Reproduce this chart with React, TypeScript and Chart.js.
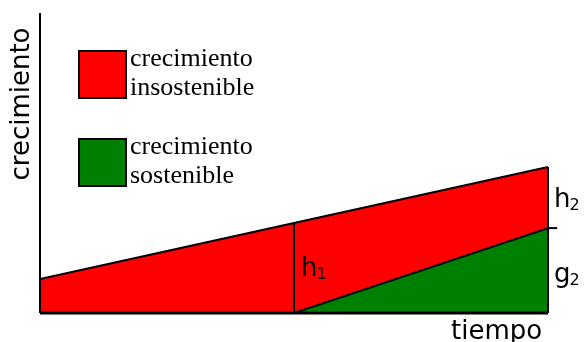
import React, { useEffect, useRef } from "react";
import { Chart, registerables } from "chart.js";

Chart.register(...registerables);

// time positions (x) and growth values (y)
const redX = [0, 5, 10];
const redY = [1.13, 3.0, 4.87];
const greenX = [5, 10];
const greenY = [0, 2.83];
const xMax = 10;
const yMax = 10;

const legendItems = [
  { color: "#ff0000", lines: ["crecimiento", "insostenible"] },
  { color: "#008000", lines: ["crecimiento", "sostenible"] },
];

const axisTitleX = "tiempo";
const axisTitleY = "crecimiento";

const pts = (xs: number[], ys: number[]) => xs.map((x, i) => ({ x, y: ys[i] }));

const labelsPlugin = {
  id: "labelsPlugin",
  afterDraw(chart: any) {
    const ctx = chart.ctx as CanvasRenderingContext2D;
    const xs = chart.scales.x;
    ctx.save();
    ctx.fillStyle = "#000";
    ctx.textBaseline = "alphabetic";
    ctx.textAlign = "left";
    const sans = "DejaVu Sans";
    const serif = "Liberation Serif";
    // legend
    legendItems.forEach((it, i) => {
      const top = 51 + i * 88;
      ctx.fillStyle = it.color;
      ctx.fillRect(79, top, 47, 47);
      ctx.strokeStyle = "#000";
      ctx.lineWidth = 2;
      ctx.strokeRect(79, top, 47, 47);
      ctx.fillStyle = "#000";
      ctx.font = `26px "${serif}"`;
      ctx.fillText(it.lines[0], 130, top + 15);
      ctx.fillText(it.lines[1], 130, top + 44);
    });
    // axis titles
    ctx.font = `26px "${sans}"`;
    ctx.fillText(axisTitleX, 451, 339);
    ctx.save();
    ctx.translate(29, 104);
    ctx.rotate(-Math.PI / 2);
    ctx.textAlign = "center";
    ctx.fillText(axisTitleY, 0, 0);
    ctx.restore();
    // h / g annotations
    const xr = xs.getPixelForValue(xMax);
    const xm = xs.getPixelForValue(5);
    const drawSub = (main: string, sub: string, x: number, y: number) => {
      ctx.font = `26px "${sans}"`;
      ctx.fillText(main, x, y);
      const w = ctx.measureText(main).width;
      ctx.font = `16px "${sans}"`;
      ctx.fillText(sub, x + w - 1, y + 3);
    };
    drawSub("h", "2", xr + 6, 207);
    drawSub("g", "2", xr + 6, 282);
    drawSub("h", "1", xm + 7, 276);
    ctx.restore();
  },
};

export default function App() {
  const ref = useRef<HTMLCanvasElement>(null);
  useEffect(() => {
    if (!ref.current) return;
    const line = (data: any[], width = 2, order = 1) => ({
      data,
      borderColor: "#000",
      borderWidth: width,
      pointRadius: 0,
      fill: false,
      tension: 0,
      clip: false as any,
      order,
    });
    const chart = new Chart(ref.current, {
      type: "line",
      data: {
        datasets: [
          {
            data: pts(redX, redY),
            backgroundColor: "#ff0000",
            borderColor: "#000",
            borderWidth: 2,
            pointRadius: 0,
            fill: "origin",
            tension: 0,
            order: 10,
          },
          {
            data: pts(greenX, greenY),
            backgroundColor: "#008000",
            borderColor: "#000",
            borderWidth: 2,
            pointRadius: 0,
            fill: "origin",
            tension: 0,
            order: 5,
          },
          line([{ x: 5, y: 0 }, { x: 5, y: redY[1] }]),
          line([{ x: xMax, y: 0 }, { x: xMax, y: redY[2] }]),
          line([{ x: xMax, y: greenY[1] }, { x: xMax + 0.18, y: greenY[1] }]),
          line([{ x: 0, y: 0 }, { x: 0, y: yMax }], 2),
          line([{ x: 0, y: 0 }, { x: xMax, y: 0 }], 3),
        ] as any,
      },
      options: {
        animation: false,
        responsive: false,
        devicePixelRatio: 1,
        layout: { padding: { left: 40, right: 37, top: 13, bottom: 29 } },
        scales: {
          x: { type: "linear", min: 0, max: xMax, display: false },
          y: { type: "linear", min: 0, max: yMax, display: false },
        },
        plugins: { legend: { display: false }, tooltip: { enabled: false } },
      },
      plugins: [labelsPlugin],
    });
    return () => chart.destroy();
  }, []);
  return (
    <div style={{ position: "absolute", left: 0, top: 0, width: 585, height: 342, background: "#fff" }}>
      <canvas ref={ref} width={585} height={342} />
    </div>
  );
}
